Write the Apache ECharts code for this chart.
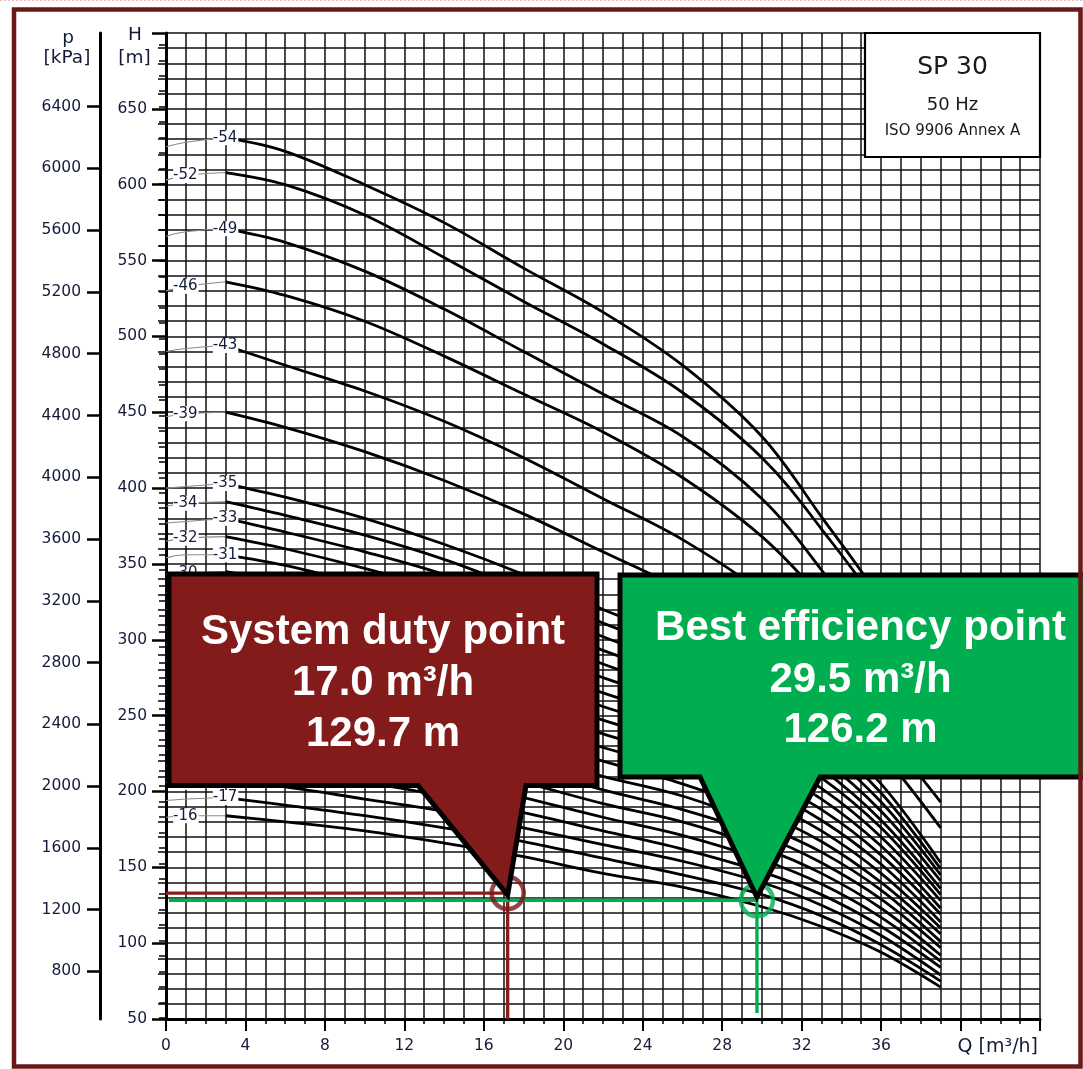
<!DOCTYPE html>
<html><head><meta charset="utf-8">
<script src="https://cdn.jsdelivr.net/npm/echarts@6/dist/echarts.min.js"></script>
<style>html,body{margin:0;padding:0;background:#fff}#c{width:1083px;height:1069px}</style>
</head><body><div id="c"></div>
<script>
// ---- data ----
const flowQ = [0, 1, 3, 6, 10, 14, 18, 22, 26, 30, 33, 36, 39];
const head54 = [625, 628, 631, 622, 600, 575, 545, 516, 481, 434, 381, 325, 245];
const head52 = [603, 606, 608, 600, 580, 552, 523, 495, 463, 420, 373, 318, 238];
const head49 = [566, 569, 571, 562, 543, 518, 490, 462, 434, 393, 346, 290, 225];
const head46 = [530, 533, 536, 527, 510, 487, 462, 437, 407, 368, 327, 275, 214];
const head43 = [490, 492, 494, 481, 464, 444, 420, 393, 366, 331, 293, 243, 193];
const head39 = [447, 449, 450, 440, 424, 405, 383, 358, 333, 303, 268, 226, 176];
const head35 = [400, 401, 403, 394, 380, 363, 343, 320, 299, 271, 243, 205, 153];
const head34 = [388, 390, 391, 382, 369, 353, 333, 311, 291, 264, 236, 199, 149];
const head33 = [377, 378, 380, 371, 358, 343, 323, 302, 282, 256, 229, 193, 145];
const head32 = [365, 367, 368, 360, 347, 332, 314, 293, 274, 248, 222, 187, 141];
const head31 = [354, 356, 356, 349, 336, 322, 304, 284, 265, 240, 215, 181, 136];
const head30 = [343, 344, 345, 338, 326, 311, 294, 275, 257, 233, 209, 176, 132];
const head29 = [331, 333, 334, 326, 315, 301, 284, 265, 248, 225, 202, 170, 128];
const head28 = [320, 321, 322, 315, 304, 291, 274, 256, 239, 217, 195, 164, 123];
const head27 = [308, 310, 311, 304, 293, 280, 265, 247, 231, 209, 188, 158, 119];
const head26 = [297, 298, 299, 293, 282, 270, 255, 238, 222, 202, 181, 152, 114];
const head25 = [286, 287, 288, 281, 271, 260, 245, 229, 214, 194, 174, 146, 110];
const head24 = [274, 275, 276, 270, 260, 249, 235, 220, 205, 186, 167, 140, 106];
const head23 = [263, 264, 265, 259, 250, 239, 225, 210, 197, 178, 160, 135, 101];
const head22 = [251, 252, 253, 248, 239, 228, 216, 201, 188, 171, 153, 129, 97];
const head21 = [240, 241, 242, 236, 228, 218, 206, 192, 180, 163, 146, 123, 92];
const head20 = [228, 229, 230, 225, 217, 208, 196, 183, 171, 155, 139, 117, 88];
const head19 = [217, 218, 219, 214, 206, 197, 186, 174, 162, 147, 132, 111, 84];
const head18 = [206, 206, 207, 203, 195, 187, 176, 165, 154, 140, 125, 105, 79];
const head17 = [194, 195, 196, 191, 184, 176, 167, 156, 145, 132, 118, 99, 75];
const head16 = [183, 184, 184, 180, 174, 166, 157, 146, 137, 124, 111, 94, 71];

const stageNumbers = [54, 52, 49, 46, 43, 39, 35, 34, 33, 32, 31, 30, 29, 28, 27, 26, 25, 24, 23, 22, 21, 20, 19, 18, 17, 16];
const stageHeads = [head54, head52, head49, head46, head43, head39, head35, head34, head33, head32, head31, head30, head29, head28, head27, head26, head25, head24, head23, head22, head21, head20, head19, head18, head17, head16];
const labelAtPeak = [54, 49, 43, 35, 33, 31, 29, 27, 25, 23, 21, 19, 17];

const xTickLabels = [0, 4, 8, 12, 16, 20, 24, 28, 32, 36];
const hTickLabels = [50, 100, 150, 200, 250, 300, 350, 400, 450, 500, 550, 600, 650];
const pTickLabels = [800, 1200, 1600, 2000, 2400, 2800, 3200, 3600, 4000, 4400, 4800, 5200, 5600, 6000, 6400];
const pMinorTicks = [];
for (let v = 500; v <= 6800; v += 100) pMinorTicks.push(v);

const dutyPoint = [17.2, 133.0];
const bestPoint = [29.75, 128.3];
const dutyText = ['System duty point', '17.0 m³/h', '129.7 m'];
const bestText = ['Best efficiency point', '29.5 m³/h', '126.2 m'];

// ---- chart ----
const FONT = "'DejaVu Sans', sans-serif";
const TXT = '#141b3a';
const GRIDC = '#111';
const chart = echarts.init(document.getElementById('c'), null, {renderer: 'canvas'});

const series = [];
stageNumbers.forEach((n, k) => {
  const h = stageHeads[k];
  series.push({
    type: 'line', name: 'thin' + n, data: flowQ.slice(0, 3).map((q, i) => [q, h[i]]),
    smooth: 0.5, symbol: 'none', silent: true, z: 3,
    lineStyle: {color: '#8a8a8a', width: 1.1}
  });
  series.push({
    type: 'line', name: 'SP 30-' + n, data: flowQ.slice(2).map((q, i) => [q, h[i + 2]]),
    smooth: 0.35, symbol: 'none', silent: true, z: 4,
    lineStyle: {color: '#000', width: 2.8}
  });
  const li = labelAtPeak.includes(n) ? 2 : 1;
  series.push({
    type: 'scatter', data: [[flowQ[li], h[li]]], symbolSize: 1, silent: true, z: 5,
    itemStyle: {color: '#fff', opacity: 1},
    label: {show: true, position: 'inside', formatter: '-' + n, fontFamily: FONT, fontSize: 15,
      color: TXT, textBorderWidth: 0, textBorderColor: 'transparent', opacity: 1,
      backgroundColor: '#fff', padding: [0, 1, 0, 0]}
  });
});
// reference lines
series.push({type: 'line', data: [[0, dutyPoint[1]], [dutyPoint[0], dutyPoint[1]]], symbol: 'none', z: 6, silent: true, lineStyle: {color: '#8b1c1c', width: 3.4}});
series.push({type: 'line', data: [[dutyPoint[0], dutyPoint[1]], [dutyPoint[0], 50]], symbol: 'none', z: 6, silent: true, lineStyle: {color: '#8b1c1c', width: 3.4}});
series.push({type: 'line', data: [[0.15, bestPoint[1]], [bestPoint[0], bestPoint[1]]], symbol: 'none', z: 6, silent: true, lineStyle: {color: '#00b050', width: 3.4}});
series.push({type: 'line', data: [[bestPoint[0], bestPoint[1]], [bestPoint[0], 54]], symbol: 'none', z: 6, silent: true, lineStyle: {color: '#00b050', width: 3.4}});
series.push({type: 'scatter', data: [dutyPoint], symbolSize: 32, z: 7, silent: true, itemStyle: {color: 'rgba(0,0,0,0)', borderColor: '#7a1616', borderWidth: 4.5}});
series.push({type: 'scatter', data: [bestPoint], symbolSize: 32, z: 7, silent: true, itemStyle: {color: 'rgba(0,0,0,0)', borderColor: '#00b050', borderWidth: 4.5}});

const gridLine = {show: true, lineStyle: {color: GRIDC, width: 1.5}};
const pMin = 491.8, pMax = 6877;
const plain = v => String(v);

chart.setOption({
  animation: false,
  backgroundColor: '#fff',
  grid: {left: 166, right: 43, top: 33, bottom: 50},
  xAxis: {
    type: 'value', min: 0, max: 44, interval: 4,
    axisLine: {show: true, onZero: false, lineStyle: {color: '#000', width: 3}},
    axisTick: {show: true, length: 12, lineStyle: {color: '#000', width: 2}},
    minorTick: {show: true, splitNumber: 4, length: 5, lineStyle: {color: '#000', width: 1.5}},
    splitLine: gridLine, minorSplitLine: gridLine,
    axisLabel: {customValues: xTickLabels, formatter: plain, margin: 19, fontFamily: FONT, fontSize: 15.5, color: TXT}
  },
  yAxis: [{
    type: 'value', min: 50, max: 700, interval: 50,
    axisLine: {show: true, onZero: false, lineStyle: {color: '#000', width: 3}},
    axisTick: {show: true, length: 14, lineStyle: {color: '#000', width: 2.5}},
    minorTick: {show: true, splitNumber: 5, length: 8, lineStyle: {color: '#000', width: 1.5}},
    splitLine: gridLine, minorSplitLine: gridLine,
    axisLabel: {customValues: hTickLabels, formatter: plain, margin: 19, fontFamily: FONT, fontSize: 15.5, color: TXT}
  }, {
    type: 'value', min: pMin, max: pMax, position: 'left', offset: 66,
    axisLine: {show: true, onZero: false, lineStyle: {color: '#000', width: 3}},
    axisTick: {show: true, customValues: pTickLabels, length: 13, lineStyle: {color: '#000', width: 2.5}},
    splitLine: {show: false},
    axisLabel: {customValues: pTickLabels, formatter: plain, margin: 19, fontFamily: FONT, fontSize: 15.5, color: TXT}
  }, {
    type: 'value', min: pMin, max: pMax, position: 'left', offset: 66,
    axisLine: {show: false},
    axisTick: {show: true, customValues: pMinorTicks, length: 7, lineStyle: {color: '#000', width: 1.5}},
    splitLine: {show: false},
    axisLabel: {show: false}
  }],
  series: series
});

const dp = chart.convertToPixel({xAxisIndex: 0, yAxisIndex: 0}, dutyPoint);
const bp = chart.convertToPixel({xAxisIndex: 0, yAxisIndex: 0}, bestPoint);

const calloutFont = 'bold 42px "Liberation Sans", Arial, sans-serif';
function calloutTexts(lines, cx, ys) {
  return lines.map((t, i) => ({
    type: 'text', z: 110, silent: true,
    style: {text: t, x: cx, y: ys[i], font: calloutFont, fill: '#fff', align: 'center', verticalAlign: 'middle'}
  }));
}

chart.setOption({
  graphic: [
    {type: 'line', z: 1, silent: true, shape: {x1: 0, y1: 0.5, x2: 1083, y2: 0.5}, style: {stroke: '#f2b8b8', lineWidth: 1, lineDash: [2, 2]}},
    {type: 'rect', z: 120, silent: true, shape: {x: 14, y: 9.5, width: 1066.5, height: 1057}, style: {fill: 'none', stroke: '#6b1818', lineWidth: 4.5}},
    // title box
    {type: 'rect', z: 50, silent: true, shape: {x: 865, y: 33, width: 175, height: 124}, style: {fill: '#fff', stroke: '#000', lineWidth: 2.2}},
    {type: 'text', z: 51, silent: true, style: {text: 'SP 30', x: 952.5, y: 67, font: "25px 'DejaVu Sans'", fill: '#1a1a1a', align: 'center', verticalAlign: 'middle'}},
    {type: 'text', z: 51, silent: true, style: {text: '50 Hz', x: 952.5, y: 105, font: "18px 'DejaVu Sans'", fill: '#1a1a1a', align: 'center', verticalAlign: 'middle'}},
    {type: 'text', z: 51, silent: true, style: {text: 'ISO 9906 Annex A', x: 952.5, y: 131.5, font: "15px 'DejaVu Sans'", fill: '#1a1a1a', align: 'center', verticalAlign: 'middle'}},
    // axis names
    {type: 'text', z: 51, silent: true, style: {text: 'p', x: 68, y: 38, font: "18.5px 'DejaVu Sans'", fill: TXT, align: 'center', verticalAlign: 'middle'}},
    {type: 'text', z: 51, silent: true, style: {text: '[kPa]', x: 67, y: 58.5, font: "18.5px 'DejaVu Sans'", fill: TXT, align: 'center', verticalAlign: 'middle'}},
    {type: 'text', z: 51, silent: true, style: {text: 'H', x: 135, y: 35.5, font: "18.5px 'DejaVu Sans'", fill: TXT, align: 'center', verticalAlign: 'middle'}},
    {type: 'text', z: 51, silent: true, style: {text: '[m]', x: 134.5, y: 58.5, font: "18.5px 'DejaVu Sans'", fill: TXT, align: 'center', verticalAlign: 'middle'}},
    {type: 'text', z: 51, silent: true, style: {text: 'Q [m³/h]', x: 1038, y: 1047, font: "19px 'DejaVu Sans'", fill: TXT, align: 'right', verticalAlign: 'middle'}},
    // callouts
    {type: 'polygon', z: 100, silent: true,
      shape: {points: [[169, 574], [597, 574], [597, 785.5], [526, 785.5], [dp[0], dp[1] + 2], [418, 785.5], [169, 785.5]]},
      style: {fill: '#831b1b', stroke: '#000', lineWidth: 5, lineJoin: 'miter'}},
    {type: 'polygon', z: 100, silent: true,
      shape: {points: [[620, 575], [1100, 575], [1100, 777], [820, 777], [bp[0], bp[1] - 3], [700, 777], [620, 777]]},
      style: {fill: '#00ae4f', stroke: '#000', lineWidth: 5, lineJoin: 'miter'}},
    ...calloutTexts(dutyText, 383, [632, 683, 734]),
    ...calloutTexts(bestText, 860.5, [628, 680, 730])
  ]
});
</script></body></html>
